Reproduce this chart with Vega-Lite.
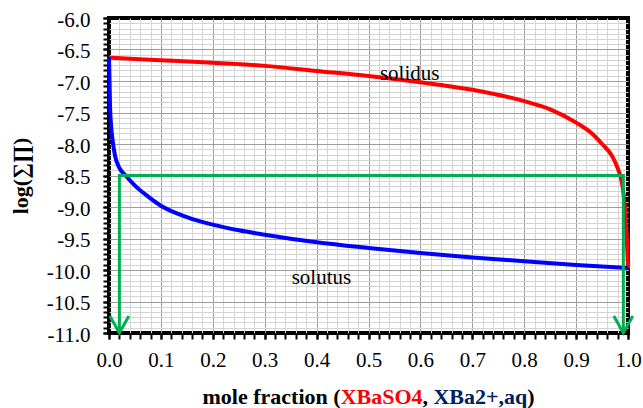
{
  "$schema": "https://vega.github.io/schema/vega-lite/v6.json",
  "width": 519,
  "height": 315,
  "autosize": {"type": "none"},
  "padding": {"left": 109, "top": 18, "right": 15, "bottom": 75},
  "background": "white",
  "config": {
    "font": "Liberation Serif",
    "view": {"stroke": "black", "strokeWidth": 4},
    "style": {
      "guide-label": {"font": "Liberation Serif", "fill": "black"},
      "guide-title": {"font": "Liberation Serif", "fill": "black"}
    },
    "axis": {"labelFont": "Liberation Serif", "titleFont": "Liberation Serif", "labelColor": "black", "titleColor": "black", "labelFlush": false}
  },
  "datasets": {
    "solidus": [
      {"x": 0, "y": -6.63}, {"x": 0.05, "y": -6.65}, {"x": 0.1, "y": -6.67}, {"x": 0.2, "y": -6.71},
      {"x": 0.3, "y": -6.76}, {"x": 0.4, "y": -6.84}, {"x": 0.5, "y": -6.92}, {"x": 0.6, "y": -7.02},
      {"x": 0.7, "y": -7.14}, {"x": 0.8, "y": -7.32}, {"x": 0.85, "y": -7.45}, {"x": 0.9, "y": -7.66},
      {"x": 0.93, "y": -7.83}, {"x": 0.95, "y": -8.0}, {"x": 0.97, "y": -8.2}, {"x": 0.98, "y": -8.38},
      {"x": 0.985, "y": -8.5}, {"x": 0.99, "y": -8.7}, {"x": 0.994, "y": -9.0}, {"x": 0.997, "y": -9.4},
      {"x": 0.999, "y": -9.75}, {"x": 1.0, "y": -9.97}
    ],
    "solutus": [
      {"x": 0, "y": -6.62}, {"x": 0.001, "y": -7.0}, {"x": 0.002, "y": -7.4}, {"x": 0.004, "y": -7.7},
      {"x": 0.007, "y": -7.95}, {"x": 0.012, "y": -8.2}, {"x": 0.02, "y": -8.38}, {"x": 0.032, "y": -8.5},
      {"x": 0.05, "y": -8.66}, {"x": 0.07, "y": -8.8}, {"x": 0.1, "y": -8.98}, {"x": 0.15, "y": -9.16},
      {"x": 0.2, "y": -9.28}, {"x": 0.25, "y": -9.37}, {"x": 0.3, "y": -9.44}, {"x": 0.4, "y": -9.56},
      {"x": 0.5, "y": -9.65}, {"x": 0.6, "y": -9.73}, {"x": 0.7, "y": -9.8}, {"x": 0.8, "y": -9.86},
      {"x": 0.9, "y": -9.92}, {"x": 1.0, "y": -9.97}
    ],
    "tieline": [
      {"x": 0.02, "y": -11, "o": 1}, {"x": 0.02, "y": -8.5, "o": 2},
      {"x": 0.991, "y": -8.5, "o": 3}, {"x": 0.991, "y": -11, "o": 4}
    ],
    "arrows": [{"x": 0.02, "y": -11}, {"x": 0.991, "y": -11}],
    "notes": [
      {"x": 0.522, "y": -6.984, "text": "solidus"},
      {"x": 0.352, "y": -10.22, "text": "solutus"}
    ],
    "xtitle": [
      {"x": 0.1802, "y": -12.127, "text": "mole fraction (", "part": "plain"},
      {"x": 0.4463, "y": -12.127, "text": "XBaSO4", "part": "solid"},
      {"x": 0.6041, "y": -12.127, "text": ",", "part": "plain"},
      {"x": 0.6252, "y": -12.127, "text": "XBa2+,aq", "part": "aqueous"},
      {"x": 0.806, "y": -12.127, "text": ")", "part": "plain"}
    ]
  },
  "resolve": {"axis": {"x": "independent", "y": "independent"}},
  "layer": [
    {
      "data": {"name": "solidus"},
      "mark": {"type": "line", "color": "#ff0000", "strokeWidth": 4, "interpolate": "monotone"},
      "encoding": {
        "x": {"field": "x", "type": "quantitative", "scale": {"domain": [0, 1], "nice": false, "zero": false},
          "axis": {"orient": "bottom", "title": null, "labels": false, "domain": false,
            "values": [0,0.02,0.04,0.06,0.08,0.1,0.12,0.14,0.16,0.18,0.2,0.22,0.24,0.26,0.28,0.3,0.32,0.34,0.36,0.38,0.4,0.42,0.44,0.46,0.48,0.5,0.52,0.54,0.56,0.58,0.6,0.62,0.64,0.66,0.68,0.7,0.72,0.74,0.76,0.78,0.8,0.82,0.84,0.86,0.88,0.9,0.92,0.94,0.96,0.98,1],
            "ticks": true, "tickSize": 6, "tickWidth": 2, "tickColor": "black",
            "grid": true, "gridColor": "#d4d4d4", "gridWidth": 1,
            "gridOpacity": {"condition": {"test": "datum.value <= 0.0001 || datum.value >= 0.9999", "value": 0}, "value": 1}}},
        "y": {"field": "y", "type": "quantitative", "scale": {"domain": [-11, -6], "nice": false, "zero": false},
          "axis": {"orient": "left", "title": null, "labels": false, "domain": false,
            "values": [-6,-6.0833,-6.1667,-6.25,-6.3333,-6.4167,-6.5,-6.5833,-6.6667,-6.75,-6.8333,-6.9167,-7,-7.0833,-7.1667,-7.25,-7.3333,-7.4167,-7.5,-7.5833,-7.6667,-7.75,-7.8333,-7.9167,-8,-8.0833,-8.1667,-8.25,-8.3333,-8.4167,-8.5,-8.5833,-8.6667,-8.75,-8.8333,-8.9167,-9,-9.0833,-9.1667,-9.25,-9.3333,-9.4167,-9.5,-9.5833,-9.6667,-9.75,-9.8333,-9.9167,-10,-10.0833,-10.1667,-10.25,-10.3333,-10.4167,-10.5,-10.5833,-10.6667,-10.75,-10.8333,-10.9167,-11],
            "ticks": true, "tickSize": 6, "tickWidth": 2, "tickColor": "black",
            "grid": true, "gridColor": "#d4d4d4", "gridWidth": 1,
            "gridOpacity": {"condition": {"test": "datum.value >= -6.0001 || datum.value <= -10.9999", "value": 0}, "value": 1}}}
      }
    },
    {
      "data": {"name": "solutus"},
      "mark": {"type": "line", "color": "#0000ff", "strokeWidth": 4, "interpolate": "monotone"},
      "encoding": {
        "x": {"field": "x", "type": "quantitative", "scale": {"domain": [0, 1], "nice": false, "zero": false},
          "axis": {"orient": "bottom", "title": null, "domain": false,
            "values": [0,0.1,0.2,0.3,0.4,0.5,0.6,0.7,0.8,0.9,1], "format": ".1f",
            "labelFont": "Liberation Serif", "labelFontSize": 21, "labelPadding": 10, "labelFlush": false, "labelColor": "black",
            "ticks": true, "tickSize": 6, "tickWidth": 2, "tickColor": "black",
            "grid": true, "gridColor": "#9e9e9e", "gridWidth": 1,
            "gridOpacity": {"condition": {"test": "datum.value <= 0.0001 || datum.value >= 0.9999", "value": 0}, "value": 1}}},
        "y": {"field": "y", "type": "quantitative", "scale": {"domain": [-11, -6], "nice": false, "zero": false},
          "axis": {"orient": "left", "title": "log(∑∏)", "titleFont": "Liberation Serif", "titleFontSize": 22, "titleFontWeight": "bold", "titlePadding": 14, "titleColor": "black",
            "domain": false,
            "values": [-11,-10.5,-10,-9.5,-9,-8.5,-8,-7.5,-7,-6.5,-6],
            "labelExpr": "(datum.value < 0 ? '-' : '') + format(abs(datum.value), '.1f')",
            "labelFont": "Liberation Serif", "labelFontSize": 21, "labelPadding": 13, "labelFlush": false, "labelColor": "black", "labelOffset": 2,
            "ticks": true, "tickSize": 6, "tickWidth": 2, "tickColor": "black",
            "grid": true, "gridColor": "#9e9e9e", "gridWidth": 1,
            "gridOpacity": {"condition": {"test": "datum.value >= -6.0001 || datum.value <= -10.9999", "value": 0}, "value": 1}}}
      }
    },
    {
      "data": {"name": "tieline"},
      "mark": {"type": "line", "color": "#00b050", "strokeWidth": 3},
      "encoding": {
        "x": {"field": "x", "type": "quantitative", "scale": {"domain": [0, 1], "nice": false, "zero": false}, "axis": null},
        "y": {"field": "y", "type": "quantitative", "scale": {"domain": [-11, -6], "nice": false, "zero": false}, "axis": null},
        "order": {"field": "o", "type": "quantitative"}
      }
    },
    {
      "data": {"name": "arrows"},
      "mark": {"type": "point", "shape": "M-1,-1.8L0,0L1,-1.8", "filled": false, "stroke": "#00b050", "strokeWidth": 3, "size": 361, "opacity": 1},
      "encoding": {
        "x": {"field": "x", "type": "quantitative", "scale": {"domain": [0, 1], "nice": false, "zero": false}, "axis": null},
        "y": {"field": "y", "type": "quantitative", "scale": {"domain": [-11, -6], "nice": false, "zero": false}, "axis": null}
      }
    },
    {
      "data": {"name": "notes"},
      "mark": {"type": "text", "align": "left", "baseline": "alphabetic", "fontSize": 21, "color": "black", "font": "Liberation Serif"},
      "encoding": {
        "x": {"field": "x", "type": "quantitative", "scale": {"domain": [0, 1], "nice": false, "zero": false}, "axis": null},
        "y": {"field": "y", "type": "quantitative", "scale": {"domain": [-11, -6], "nice": false, "zero": false}, "axis": null},
        "text": {"field": "text"}
      }
    },
    {
      "data": {"name": "xtitle"},
      "mark": {"type": "text", "align": "left", "baseline": "alphabetic", "fontSize": 22, "fontWeight": "bold", "font": "Liberation Serif"},
      "encoding": {
        "x": {"field": "x", "type": "quantitative", "scale": {"domain": [0, 1], "nice": false, "zero": false}, "axis": null},
        "y": {"field": "y", "type": "quantitative", "scale": {"domain": [-11, -6], "nice": false, "zero": false}, "axis": null},
        "text": {"field": "text"},
        "color": {"field": "part", "type": "nominal", "scale": {"domain": ["plain", "solid", "aqueous"], "range": ["black", "#ff0000", "#002060"]}, "legend": null}
      }
    }
  ]
}
